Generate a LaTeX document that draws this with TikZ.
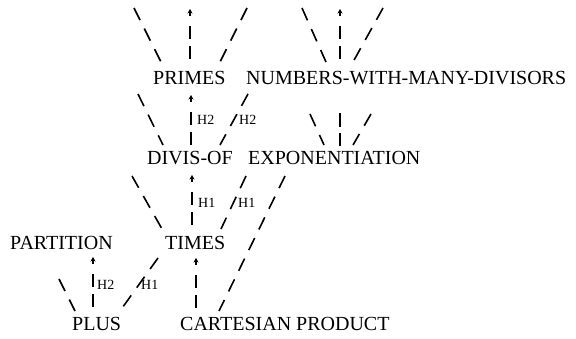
\documentclass[tikz,border=0pt]{standalone}
\usepackage{fontspec}
\setmainfont{Liberation Serif}
\usetikzlibrary{arrows.meta,calc}
\tikzset{
  lbl/.style={inner sep=0pt, anchor=west, font=\fontsize{20}{24}\selectfont},
  hl/.style={inner sep=0pt, anchor=west, font=\fontsize{14}{16}\selectfont},
  conn/.style={line width=1.6pt, black},
  sl/.style={conn, dash pattern=on 13.5pt off 9.5pt},
  vt/.style={conn, dash pattern=on 14pt off 6pt},
  upline/.style={conn, dash pattern=on 4pt off 10pt on 13pt off 7pt on 13pt off 7pt, {Stealth[length=4.5pt,width=5pt]}-},
}
\begin{document}
\begin{tikzpicture}[x=1pt,y=-1pt]
\fill[white] (0,0) rectangle (576,339);
\useasboundingbox (0,0) rectangle (576,339);

% text nodes
\node[lbl] (primes) at (153,78) {PRIMES};
\node[lbl] (nwmd) at (246,78) {NUMBERS-WITH-MANY-DIVISORS};
\node[lbl] (divis) at (147,158) {DIVIS-OF};
\node[lbl] (expo) at (248,158) {EXPONENTIATION};
\node[lbl] (partition) at (10,243) {PARTITION};
\node[lbl] (times) at (165,243) {TIMES};
\node[lbl] (plus) at (72,324) {PLUS};
\node[lbl] (cart) at (180,324) {CARTESIAN PRODUCT};

% free ends
\coordinate (c1) at (134,8);
\coordinate (c2) at (190,9);
\coordinate (c3) at (247,8);
\coordinate (c4) at (302,8);
\coordinate (c5) at (340,9);
\coordinate (c6) at (383,8);
\coordinate (c7) at (138,94);
\coordinate (c10a) at (310,114);
\coordinate (c10b) at (340,113);
\coordinate (c10c) at (371,114);
\coordinate (c11) at (132,176);
\coordinate (c18) at (59,279);

% above PRIMES
\draw[sl] (c1) -- ([shift={(8,-16)}]primes.west);
\draw[upline] (c2) -- ([shift={(37,-14)}]primes.west);
\draw[sl] (c3) -- ([shift={(67,-16)}]primes.west);
% above NUMBERS-WITH-MANY-DIVISORS
\draw[sl] (c4) -- ([shift={(80,-16)}]nwmd.west);
\draw[upline] (c5) -- ([shift={(94,-14)}]nwmd.west);
\draw[sl] (c6) -- ([shift={(107,-16)}]nwmd.west);
% DIVIS-OF
\draw[sl] (c7) -- ([shift={(16,-13)}]divis.west);
\draw[upline] ([shift={(38,17)}]primes.west) -- ([shift={(44,-11)}]divis.west);
\draw[sl] ([shift={(2,16)}]nwmd.west) -- ([shift={(73,-13)}]divis.west);
\node[hl] (h2a) at (197,120) {H2};
\node[hl] (h2b) at (239,120) {H2};
% EXPONENTIATION stubs
\draw[sl] (c10a) -- ([shift={(76,-13)}]expo.west);
\draw[vt] (c10b) -- ([shift={(92,-12)}]expo.west);
\draw[sl] (c10c) -- ([shift={(105,-13)}]expo.west);
% TIMES
\draw[sl] (c11) -- ([shift={(-3,-14)}]times.west);
\draw[upline] ([shift={(45,17)}]divis.west) -- ([shift={(27,-14)}]times.west);
\draw[sl] ([shift={(-2,18)}]expo.west) -- ([shift={(56,-14)}]times.west);
\node[hl] (h1a) at (198,203) {H1};
\node[hl] (h1b) at (238,203) {H1};
% CARTESIAN PRODUCT
\draw[sl] ([shift={(37,18)}]expo.west) -- ([shift={(39,-13)}]cart.west);
\draw[upline] ([shift={(31,15)}]times.west) -- ([shift={(16,-12)}]cart.west);
% PLUS
\draw[upline] ([shift={(83,14)}]partition.west) -- ([shift={(21,-12)}]plus.west);
\draw[sl] ([shift={(-7,15)}]times.west) -- ([shift={(48,-13)}]plus.west);
\draw[sl] (c18) -- ([shift={(3,-13)}]plus.west);
\node[hl] (h2c) at (97,285) {H2};
\node[hl] (h1c) at (141,285) {H1};
\end{tikzpicture}
\end{document}
